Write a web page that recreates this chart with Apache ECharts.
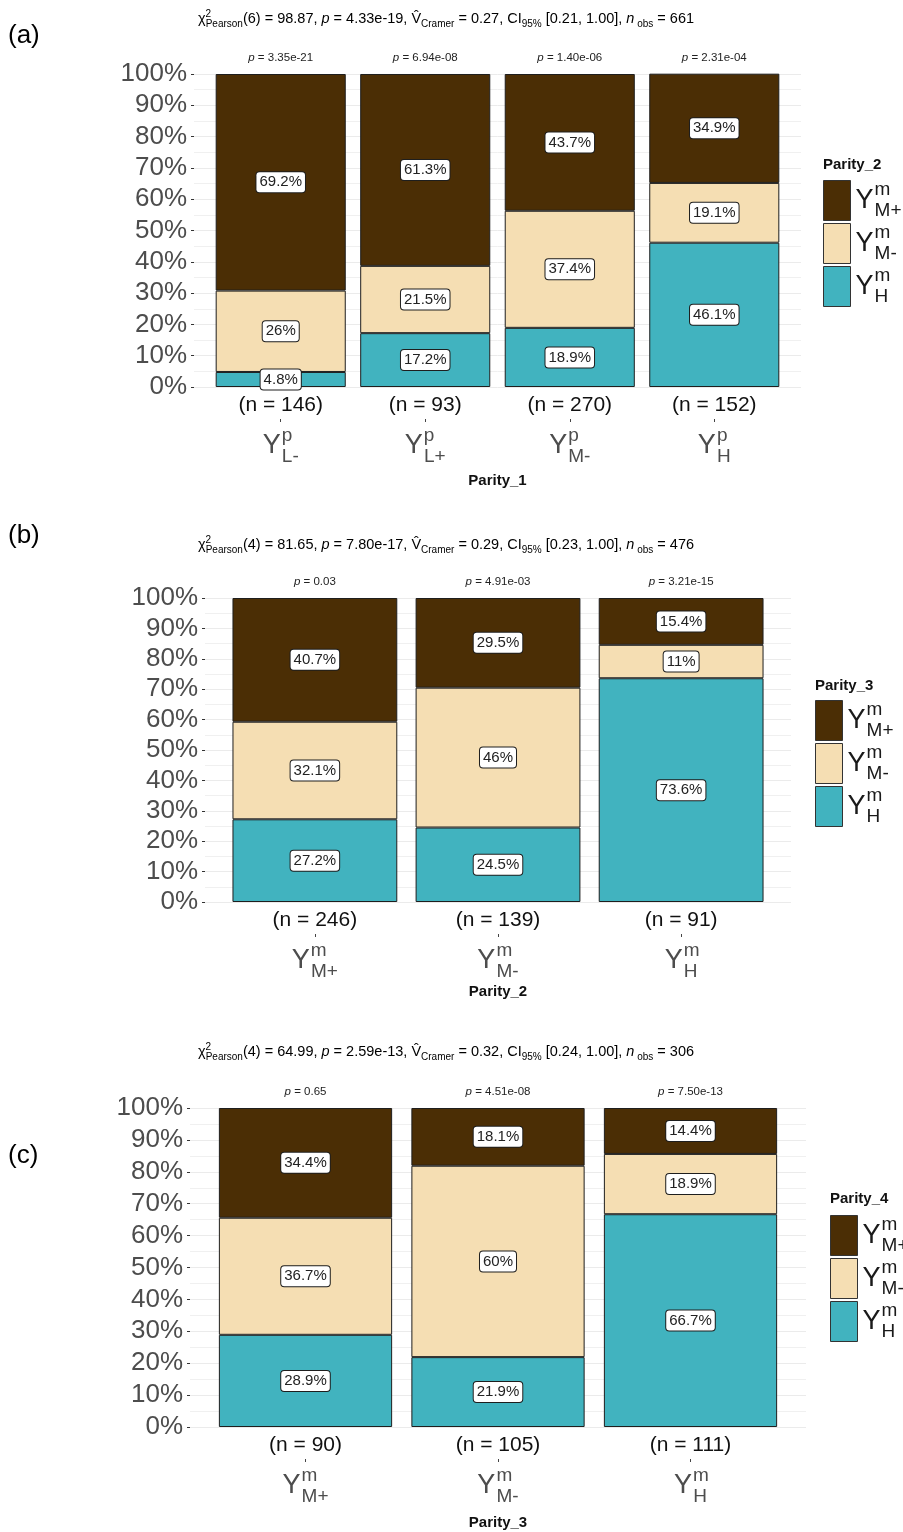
<!DOCTYPE html>
<html><head><meta charset="utf-8">
<script src="https://cdn.jsdelivr.net/npm/echarts@6/dist/echarts.min.js"></script>
<style>html,body{margin:0;padding:0;background:#fff}#c{width:903px;height:1532px}</style>
</head><body><div id="c"></div>
<script>
// ---------------- DATA ----------------
// Panel (a): x = Parity_1, fill = Parity_2
const subsA = ['L-', 'L+', 'M-', 'H'];
const supA = 'p';
const nA = [146, 93, 270, 152];
const pA = ['3.35e-21', '6.94e-08', '1.40e-06', '2.31e-04'];
const hA = [4.8, 17.2, 18.9, 46.1];
const mMinusA = [26, 21.5, 37.4, 19.1];
const mPlusA = [69.2, 61.3, 43.7, 34.9];
const statA = { df: 6, chi: '98.87', p: '4.33e-19', v: '0.27', ci: '[0.21, 1.00]', nobs: 661 };

// Panel (b): x = Parity_2, fill = Parity_3
const subsB = ['M+', 'M-', 'H'];
const supB = 'm';
const nB = [246, 139, 91];
const pB = ['0.03', '4.91e-03', '3.21e-15'];
const hB = [27.2, 24.5, 73.6];
const mMinusB = [32.1, 46, 11];
const mPlusB = [40.7, 29.5, 15.4];
const statB = { df: 4, chi: '81.65', p: '7.80e-17', v: '0.29', ci: '[0.23, 1.00]', nobs: 476 };

// Panel (c): x = Parity_3, fill = Parity_4
const subsC = ['M+', 'M-', 'H'];
const supC = 'm';
const nC = [90, 105, 111];
const pC = ['0.65', '4.51e-08', '7.50e-13'];
const hC = [28.9, 21.9, 66.7];
const mMinusC = [36.7, 60, 18.9];
const mPlusC = [34.4, 18.1, 14.4];
const statC = { df: 4, chi: '64.99', p: '2.59e-13', v: '0.32', ci: '[0.24, 1.00]', nobs: 306 };

const yTicks = { min: 0, max: 100, step: 10 };
const fillNames = ['H', 'M-', 'M+'];          // stacking order, bottom to top
const legendOrder = ['M+', 'M-', 'H'];
const xNames = ['Parity_1', 'Parity_2', 'Parity_3'];
const legendTitles = ['Parity_2', 'Parity_3', 'Parity_4'];
const panelTags = ['(a)', '(b)', '(c)'];

// ---------------- STYLE / LAYOUT ----------------
const FONT = '"Liberation Sans", Arial, sans-serif';
const COLORS = { 'H': '#41B3BF', 'M-': '#F5DEB3', 'M+': '#4B2E05' };
const layout = [
  { left: 194, width: 607, top: 74, height: 313, nameGap: 86, title: 19, tag: 36,
    legend: { left: 823, top: 180, title: 165 } },
  { left: 205, width: 586, top: 598, height: 304, nameGap: 82, title: 545, tag: 536,
    legend: { left: 815, top: 700, title: 686 } },
  { left: 190, width: 616, top: 1108, height: 319, nameGap: 88, title: 1052, tag: 1156,
    legend: { left: 830, top: 1215, title: 1199 } }
];

const panels = [
  { subs: subsA, sup: supA, n: nA, p: pA, vals: [hA, mMinusA, mPlusA], stat: statA },
  { subs: subsB, sup: supB, n: nB, p: pB, vals: [hB, mMinusB, mPlusB], stat: statB },
  { subs: subsC, sup: supC, n: nC, p: pC, vals: [hC, mMinusC, mPlusC], stat: statC }
];

function yRich(color) {
  return {
    Y: { fontSize: 27, color: color, lineHeight: 40, verticalAlign: 'middle', align: 'left', padding: [0, 1, 0, 0], fontFamily: FONT },
    sup: { fontSize: 19, color: color, lineHeight: 8, verticalAlign: 'top', align: 'left', width: 0.1, fontFamily: FONT },
    sub: { fontSize: 19, color: color, lineHeight: 15, verticalAlign: 'bottom', align: 'left', fontFamily: FONT }
  };
}

const grid = [], xAxis = [], yAxis = [], series = [], legend = [], graphic = [];

panels.forEach((pd, k) => {
  const L = layout[k];
  const N = pd.n.length;
  const band = L.width / (N + 0.2);
  const cats = pd.subs.map((s, i) => 'c' + i);
  grid.push({ left: L.left, top: L.top, width: L.width, height: L.height });
  grid.push({ left: L.left + 0.1 * band, top: L.top, width: N * band, height: L.height });
  const gFull = 2 * k, gBar = 2 * k + 1;

  xAxis.push({ type: 'value', gridIndex: gFull, show: false, min: 0, max: 1 });
  const catBase = { type: 'category', gridIndex: gBar, data: cats,
    axisLine: { show: false }, axisTick: { show: false }, splitLine: { show: false } };
  xAxis.push(Object.assign({}, catBase, {
    position: 'bottom',
    name: xNames[k], nameLocation: 'middle', nameGap: L.nameGap,
    nameTextStyle: { fontSize: 15, fontWeight: 'bold', color: '#111', fontFamily: FONT },
    axisLabel: { margin: 7.5, fontSize: 21, lineHeight: 21, color: '#111', fontFamily: FONT, interval: 0,
      formatter: (v, i) => '(n = ' + pd.n[i] + ')' }
  }));
  xAxis.push(Object.assign({}, catBase, {
    position: 'bottom',
    axisLabel: { margin: 39, interval: 0, rich: yRich('#4D4D4D'),
      formatter: (v, i) => '{Y|Y}{sup|' + pd.sup + '}{sub|' + pd.subs[i] + '}' }
  }));
  xAxis.push(Object.assign({}, catBase, {
    position: 'top',
    axisLabel: { margin: 10, interval: 0,
      rich: { i: { fontSize: 11.5, fontStyle: 'italic', color: '#222', fontFamily: FONT },
              t: { fontSize: 11.5, color: '#222', fontFamily: FONT } },
      formatter: (v, i) => '{i|p}{t| = ' + pd.p[i] + '}' }
  }));
  xAxis.push(Object.assign({}, catBase, {
    position: 'bottom', offset: 32,
    axisTick: { show: true, alignWithLabel: true, length: 3, lineStyle: { color: '#444', width: 1 } },
    axisLabel: { show: false }
  }));

  yAxis.push({
    type: 'value', gridIndex: gFull, min: yTicks.min, max: yTicks.max, interval: yTicks.step,
    axisLine: { show: false },
    axisTick: { show: true, length: 3, lineStyle: { color: '#333', width: 1 } },
    axisLabel: { formatter: '{value}%', fontSize: 26, color: '#4D4D4D', margin: 7, fontFamily: FONT },
    splitLine: { show: true, lineStyle: { color: '#EBEBEB', width: 1 } },
    minorTick: { show: false, splitNumber: 2 },
    minorSplitLine: { show: true, lineStyle: { color: '#F0F0F0', width: 1 } }
  });
  yAxis.push({ type: 'value', gridIndex: gBar, show: false, min: yTicks.min, max: yTicks.max,
    splitLine: { show: false } });

  fillNames.forEach((fn, j) => {
    series.push({
      name: fn, type: 'bar', stack: 'panel' + k, xAxisIndex: 5 * k + 1, yAxisIndex: 2 * k + 1,
      barWidth: '90%', silent: true,
      data: pd.vals[j],
      itemStyle: { color: COLORS[fn], borderColor: '#1E1E1E', borderWidth: 1 },
      label: { show: true, position: 'inside', formatter: p => p.value + '%',
        backgroundColor: '#fff', borderColor: '#1E1E1E', borderWidth: 1, borderRadius: 3,
        padding: [3, 3, 2, 3], fontSize: 15, color: '#222', fontFamily: FONT }
    });
  });
  legend.push({
    orient: 'vertical', left: L.legend.left, top: L.legend.top, padding: 0,
    itemWidth: 27, itemHeight: 40, itemGap: 2, icon: 'rect', selectedMode: false,
    data: legendOrder,
    itemStyle: { borderColor: '#333', borderWidth: 1 },
    formatter: name => '{Y|Y}{sup|m}{sub|' + name + '}',
    textStyle: { rich: yRich('#1A1A1A') }
  });
  const s = pd.stat;
  graphic.push({
    type: 'text', x: 446, y: L.title, silent: true,
    style: {
      text: '{t|χ}{sup|2}{sub|Pearson}{t|(' + s.df + ') = ' + s.chi + ', }{it|p}{t| = ' + s.p +
            ', V\u0302}{sub|Cramer}{t| = ' + s.v + ', CI}{sub|95%}{t| ' + s.ci + ', }{it|n}{sub| obs}{t| = ' + s.nobs + '}',
      align: 'center', verticalAlign: 'middle',
      rich: {
        t: { fontSize: 14.5, lineHeight: 20, align: 'left', color: '#111', fontFamily: FONT },
        it: { fontSize: 14.5, lineHeight: 20, align: 'left', fontStyle: 'italic', color: '#111', fontFamily: FONT },
        sup: { fontSize: 10, lineHeight: 6, verticalAlign: 'top', align: 'left', width: 0.1, color: '#111', fontFamily: FONT },
        sub: { fontSize: 10, lineHeight: 16, verticalAlign: 'bottom', align: 'left', color: '#111', fontFamily: FONT }
      }
    }
  });
  graphic.push({ type: 'text', x: 8, y: L.tag, silent: true,
    style: { text: panelTags[k], fontSize: 26, fill: '#000', verticalAlign: 'middle', fontFamily: FONT } });
  graphic.push({ type: 'text', x: L.legend.left, y: L.legend.title, silent: true,
    style: { text: legendTitles[k], fontSize: 15, fontWeight: 'bold', fill: '#111', verticalAlign: 'middle', fontFamily: FONT } });
});

const chart = echarts.init(document.getElementById('c'), null, { renderer: 'canvas' });
chart.setOption({
  animation: false,
  backgroundColor: '#fff',
  textStyle: { fontFamily: FONT },
  grid, xAxis, yAxis, series, legend, graphic
});
</script>
</body></html>
